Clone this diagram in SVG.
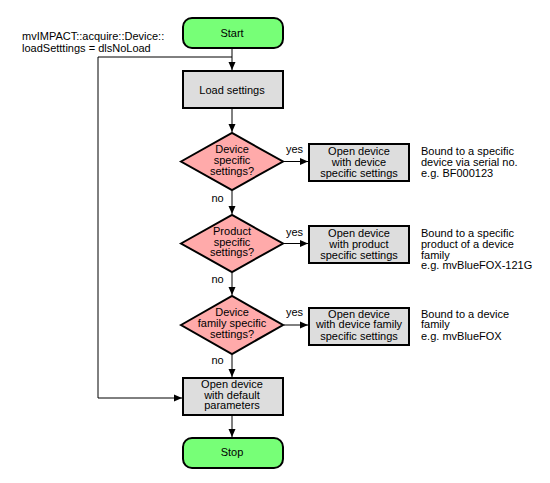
<svg xmlns="http://www.w3.org/2000/svg" width="550" height="483" viewBox="0 0 550 483">
<defs>
<style>
text{font-family:"Liberation Sans",Arial,sans-serif;font-size:11px;fill:#000}
.c{text-anchor:middle}
.term{fill:#77ff77;stroke:#000;stroke-width:2}
.proc{fill:#dddddd;stroke:#000;stroke-width:2}
.dec{fill:#ffaaaa;stroke:#000;stroke-width:2}
.edge{fill:none;stroke:#000;stroke-width:1}
</style>
<marker id="ah" markerUnits="userSpaceOnUse" markerWidth="8" markerHeight="8" refX="8" refY="4" orient="auto">
<path d="M0,0.5 L8,4 L0,7.5 z" fill="#000"/>
</marker>
</defs>
<rect width="550" height="483" fill="#fff"/>
<g id="connectors">
<line class="edge" x1="232" y1="49" x2="232" y2="70" marker-end="url(#ah)"/>
<path class="edge" d="M232,57 H98 V398 H182" marker-end="url(#ah)"/>
<line class="edge" x1="232" y1="109" x2="232" y2="132" marker-end="url(#ah)"/>
<line class="edge" x1="284" y1="161.5" x2="308" y2="161.5" marker-end="url(#ah)"/>
<line class="edge" x1="232" y1="191" x2="232" y2="214" marker-end="url(#ah)"/>
<line class="edge" x1="284" y1="243.5" x2="308" y2="243.5" marker-end="url(#ah)"/>
<line class="edge" x1="232" y1="273" x2="232" y2="295" marker-end="url(#ah)"/>
<line class="edge" x1="284" y1="325" x2="308" y2="325" marker-end="url(#ah)"/>
<line class="edge" x1="232" y1="355" x2="232" y2="377" marker-end="url(#ah)"/>
<line class="edge" x1="232" y1="416" x2="232" y2="437" marker-end="url(#ah)"/>
<text x="286" y="153.3">yes</text>
<text x="286" y="235.5">yes</text>
<text x="286" y="316">yes</text>
<text x="211.5" y="201.7">no</text>
<text x="211.5" y="283.3">no</text>
<text x="211.5" y="364.3">no</text>
</g>
<g id="loop-label">
<text x="22" y="40.3">mvIMPACT::acquire::Device::</text>
<text x="22" y="51.7">loadSetttings = dlsNoLoad</text>
</g>
<g id="start">
<rect class="term" x="183" y="18" width="100" height="30" rx="9"/>
<text class="c" x="232" y="36.7">Start</text>
</g>
<g id="load">
<rect class="proc" x="183" y="71" width="100" height="37"/>
<text class="c" x="232" y="94">Load settings</text>
</g>
<g id="dec1">
<polygon class="dec" points="181,161.5 232,133 283,161.5 232,190"/>
<text class="c" x="232" y="153.3">Device</text>
<text class="c" x="232" y="164">specific</text>
<text class="c" x="232" y="174.7">settings?</text>
</g>
<g id="box1">
<rect class="proc" x="309" y="144" width="100" height="37"/>
<text class="c" x="359" y="155.3">Open device</text>
<text class="c" x="359" y="166">with device</text>
<text class="c" x="359" y="176.7">specific settings</text>
</g>
<g id="note1">
<text x="421" y="155.3">Bound to a specific</text>
<text x="421" y="166">device via serial no.</text>
<text x="421" y="176.7">e.g. BF000123</text>
</g>
<g id="dec2">
<polygon class="dec" points="181,243.5 232,215 283,243.5 232,272"/>
<text class="c" x="232" y="235">Product</text>
<text class="c" x="232" y="245.5">specific</text>
<text class="c" x="232" y="256">settings?</text>
</g>
<g id="box2">
<rect class="proc" x="309" y="226" width="100" height="37"/>
<text class="c" x="359" y="237.3">Open device</text>
<text class="c" x="359" y="248">with product</text>
<text class="c" x="359" y="258.7">specific settings</text>
</g>
<g id="note2">
<text x="421" y="237.3">Bound to a specific</text>
<text x="421" y="248">product of a device</text>
<text x="421" y="258.7">family</text>
<text x="421" y="269.3">e.g. mvBlueFOX-121G</text>
</g>
<g id="dec3">
<polygon class="dec" points="181,325 232,296 283,325 232,354"/>
<text class="c" x="232" y="315.7">Device</text>
<text class="c" x="232" y="327">family specific</text>
<text class="c" x="232" y="337.7">settings?</text>
</g>
<g id="box3">
<rect class="proc" x="309" y="308" width="100" height="37"/>
<text class="c" x="359" y="317.7">Open device</text>
<text class="c" x="359" y="328.3">with device family</text>
<text class="c" x="359" y="339.7">specific settings</text>
</g>
<g id="note3">
<text x="421" y="317.7">Bound to a device</text>
<text x="421" y="328.3">family</text>
<text x="421" y="339.7">e.g. mvBlueFOX</text>
</g>
<g id="default">
<rect class="proc" x="183" y="378" width="100" height="37"/>
<text class="c" x="232" y="388">Open device</text>
<text class="c" x="232" y="398.7">with default</text>
<text class="c" x="232" y="409.3">parameters</text>
</g>
<g id="stop">
<rect class="term" x="183" y="438" width="100" height="30" rx="9"/>
<text class="c" x="232" y="455.7">Stop</text>
</g>
</svg>
